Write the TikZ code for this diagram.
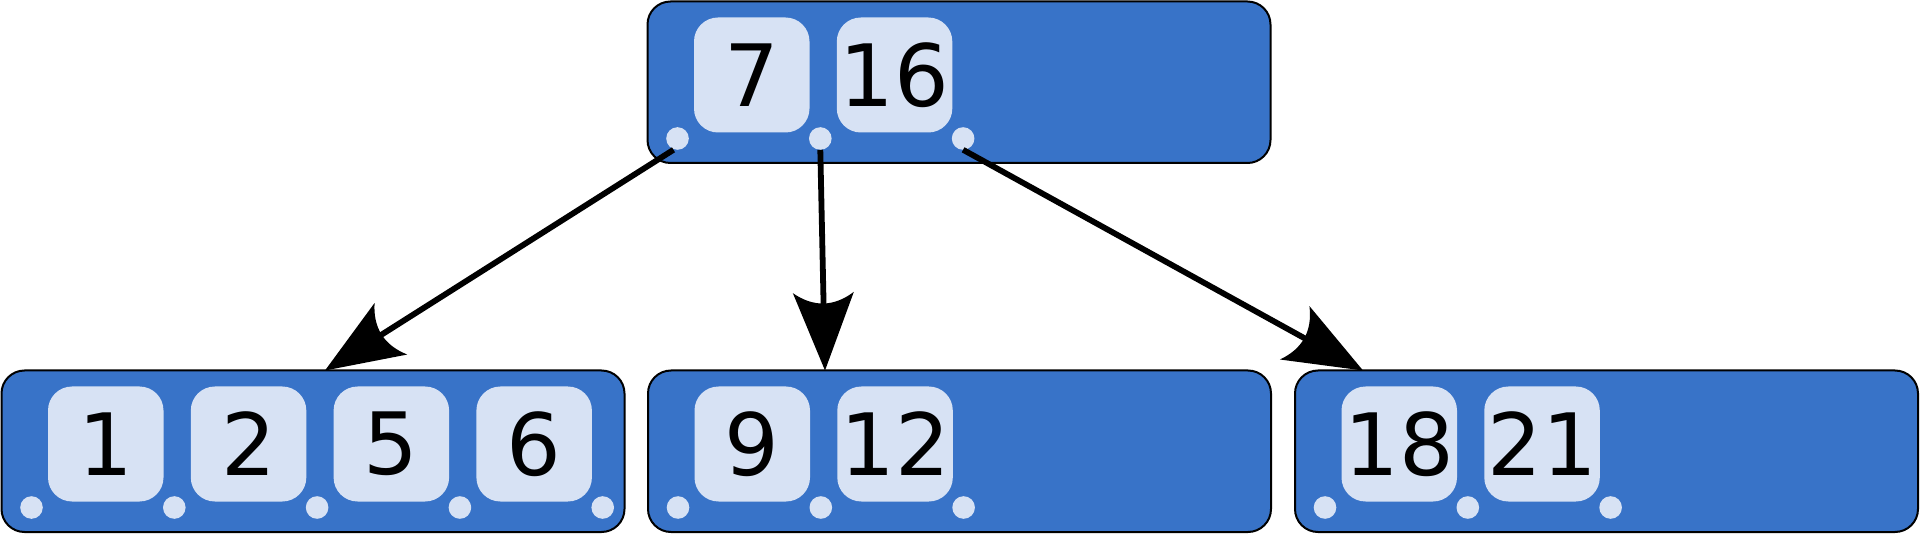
\documentclass[tikz,border=0pt]{standalone}
\usepackage{fontspec}
\setmainfont{DejaVu Sans}
\usetikzlibrary{arrows.meta}
\definecolor{nodeblue}{HTML}{3873C8}
\definecolor{keylight}{HTML}{D7E2F4}

\pgfdeclarearrow{
  name = Barb,
  setup code = {
    \pgfarrowssettipend{0pt}
    \pgfarrowssetlineend{-60pt}
    \pgfarrowssetvisualbackend{-78pt}
    \pgfarrowshullpoint{0pt}{0pt}
    \pgfarrowshullpoint{-78pt}{30.5pt}
    \pgfarrowshullpoint{-78pt}{-30.5pt}
  },
  drawing code = {
    \pgfpathmoveto{\pgfpointorigin}
    \pgfpathlineto{\pgfpoint{-78pt}{30.5pt}}
    \pgfpathquadraticcurveto{\pgfpoint{-56pt}{0pt}}{\pgfpoint{-78pt}{-30.5pt}}
    \pgfpathclose
    \pgfusepathqfill
  }
}

\newcommand\btreenode[5]{% name, left x, top y, keys, number of keys
  \node[bnode] (#1) at (#2,#3) {};
  \foreach \k [count=\i from 0] in {#4} {
    \node[keybox] (#1-k\i) at ([xshift={46.5+142.8*\i}, yshift=-16pt]#1.north west) {};
    \node[keytext] (#1-t\i) at (#1-k\i.center) {\k};
  }
  \foreach \i in {0,...,#5} {
    \node[ptr] (#1-p\i) at ([xshift={30+142.8*\i}, yshift=-137pt]#1.north west) {};
  }
}

\begin{document}
\begin{tikzpicture}[x=1pt,y=-1pt,
  bnode/.style={draw=black, line width=2pt, fill=nodeblue, rounded corners=23pt,
    minimum width=623pt, minimum height=161.5pt, inner sep=0pt, outer sep=0pt,
    anchor=north west},
  keybox/.style={fill=keylight, rounded corners=24pt, minimum width=115.5pt,
    minimum height=115pt, inner sep=0pt, outer sep=0pt, anchor=north west},
  keytext/.style={font=\fontsize{86pt}{86pt}\selectfont, inner sep=0pt, text=black},
  ptr/.style={circle, fill=keylight, minimum size=22.6pt, inner sep=0pt, outer sep=0pt},
  link/.style={line width=5.8pt, draw=black, -Barb}]
\useasboundingbox (0,0) rectangle (1920,534);

\btreenode{root}{647.5}{1.5}{7,16}{2}
\btreenode{leafA}{1.5}{370.5}{1,2,5,6}{4}
\btreenode{leafB}{648}{370.5}{9,12}{2}
\btreenode{leafC}{1295}{370.5}{18,21}{2}

\coordinate (startA) at ([xshift=-4pt]root-p0.south);
\coordinate (tipA) at ([xshift=323.5pt]leafA.north west);
\coordinate (tipB) at ([xshift=177pt]leafB.north west);
\coordinate (tipC) at ([xshift=68pt]leafC.north west);

\draw[link] (startA) -- (tipA);
\draw[link] (root-p1.south) -- (tipB);
\draw[link] (root-p2.south) -- (tipC);
\end{tikzpicture}
\end{document}
